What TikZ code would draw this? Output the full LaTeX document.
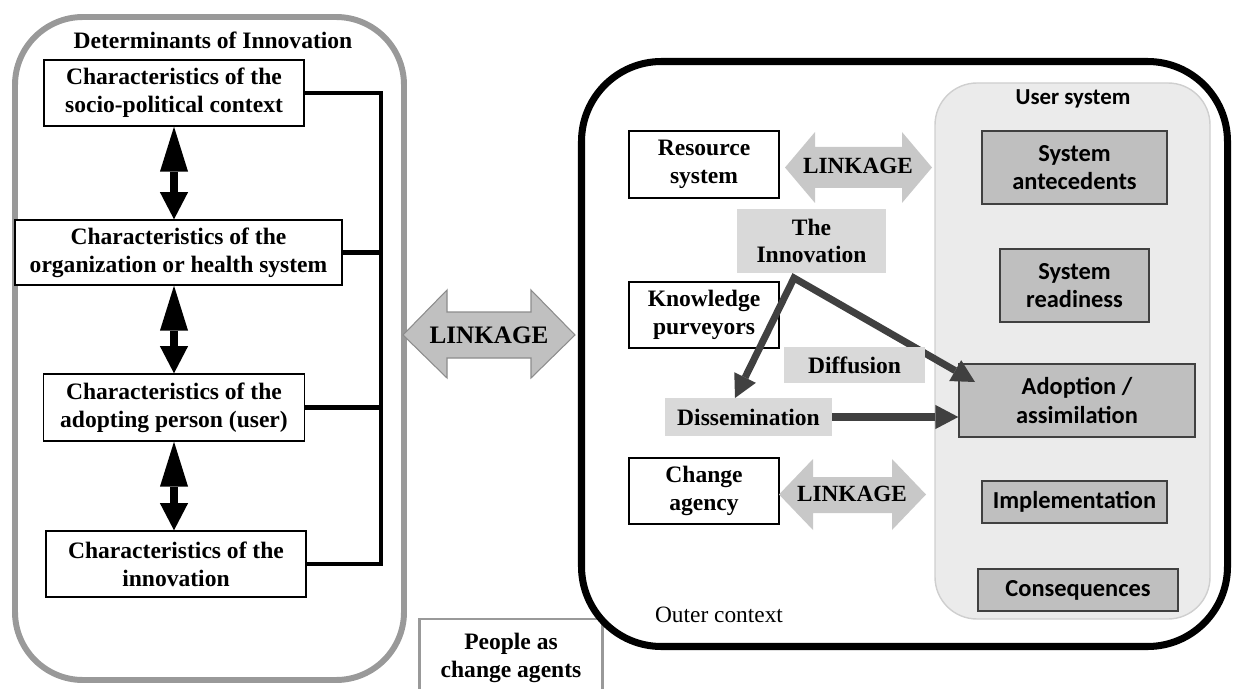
\documentclass[tikz,border=0pt]{standalone}
\usepackage{fontspec}
\setmainfont{Liberation Serif}
\newfontfamily\carlito{Carlito}
\usetikzlibrary{arrows.meta,calc}
\definecolor{darkg}{HTML}{404040}
\definecolor{lightbox}{HTML}{D9D9D9}
\definecolor{userbg}{HTML}{EBEBEB}
\definecolor{userln}{HTML}{CFCFCF}
\definecolor{ufill}{HTML}{BFBFBF}
\definecolor{lkfill}{HTML}{C8C8C8}
\definecolor{lkbig}{HTML}{C0C0C0}
\begin{document}
\begin{tikzpicture}[x=0.02cm, y=-0.02cm,
  sz/.style 2 args={minimum width=#1*0.02cm, minimum height=#2*0.02cm},
  serifb/.style={font=\bfseries\fontsize{13.4}{15.8}\selectfont},
  wbox/.style={draw, line width=0.8pt, fill=white, align=center, inner sep=0pt, serifb},
  gbox/.style={fill=lightbox, align=center, inner sep=0pt, serifb},
  ubox/.style={draw=darkg, line width=0.8pt, fill=ufill, align=center, inner sep=0pt,
    font=\carlito\bfseries\fontsize{13.9}{16}\selectfont},
  dbl/.style={line width=4.5pt,
    {Triangle[length=25.6pt,width=16pt,line width=0pt]}-{Triangle[length=15.4pt,width=16pt,line width=0pt]}},
  bus/.style={line width=2.3pt, line join=miter},
  darr/.style={line width=4pt, draw=darkg, line join=miter},
  dtip/.style={Triangle[length=13pt,width=13.7pt,line width=0pt]},
  lktext/.style={font=\bfseries\fontsize{13.2}{15}\selectfont, inner sep=0pt}
]
\useasboundingbox (0,0) rectangle (1234,689);

% ---------- left panel ----------
\draw[line width=3.4pt, draw=black!40, rounded corners=1.36cm] (15,17) rectangle (404,680);
\node[serifb, inner sep=0pt] (dettitle) at (213,40) {Determinants of Innovation};

\node[wbox, sz={260}{66}] (b1) at (174,93) {Characteristics of the\\socio-political context};
\node[wbox, sz={327}{65}] (b2) at (178.5,252.5) {Characteristics of the\\organization or health system};
\node[wbox, sz={261}{67}] (b3) at (174,407.5) {Characteristics of the\\adopting person (user)};
\node[wbox, sz={260}{66}] (b4) at (176,564) {Characteristics of the\\innovation};

\draw[dbl] (b1.south) -- (b1.south |- b2.north);
\draw[dbl] (b1.south |- b2.south) -- (b1.south |- b3.north);
\draw[dbl] (b3.south) -- (b3.south |- b4.north);

\coordinate (bt) at (381,97);
\draw[bus] (b1.east) -| (bt |- b4.east) -- (b4.east);
\draw[bus] (b2.east) -- (b2.east -| bt);
\draw[bus] (b3.east) -- (b3.east -| bt);

% ---------- big linkage ----------
\draw[fill=lkbig, draw=black!45, line width=0.6pt]
  (403,335) -- (447,290) -- (447,312) -- (531,312) -- (531,290) -- (575,335)
  -- (531,378) -- (531,358) -- (447,358) -- (447,378) -- cycle;
\node[lktext, font=\bfseries\fontsize{14.3}{16}\selectfont] (lk0) at (489,335) {LINKAGE};

% ---------- people box ----------
\node[draw=black!40, line width=1.7pt, fill=white, sz={183}{78}, align=center, inner sep=0pt,
  serifb] (people) at (511,658) {People as\\change agents};

% ---------- right panel ----------
\draw[line width=4pt, rounded corners=1.6cm] (581.5,61.5) rectangle (1227.5,646.5);
\draw[fill=userbg, draw=userln, line width=0.8pt, rounded corners=0.84cm] (935,83) rectangle (1210,619);
\node[font=\carlito\bfseries\fontsize{13}{15}\selectfont, inner sep=0pt] (us) at (1073,99) {User system};

\node[ubox, sz={185}{73}] (ant) at (1074.5,167.5) {System\\antecedents};
\node[ubox, sz={149}{73}] (ready) at (1074.5,285.5) {System\\readiness};
\node[ubox, sz={236}{73}] (adopt) at (1077,400.5) {Adoption /\\assimilation};
\node[ubox, sz={185}{42}] (impl) at (1074.5,502) {Implementation};
\node[ubox, sz={200}{42}] (cons) at (1078,590) {Consequences};

\node[wbox, sz={150}{67}] (res) at (704,164.5) {Resource\\system};
\node[wbox, sz={150}{66}] (know) at (704,315) {Knowledge\\purveyors};
\node[wbox, sz={150}{66}] (chg) at (704,491) {Change\\agency};

% linkage arrows
\fill[lkfill] (785,167.5) -- (815,132) -- (815,147) -- (902,147) -- (902,132) -- (932,167.5)
  -- (902,203) -- (902,188) -- (815,188) -- (815,203) -- cycle;
\node[lktext] (lk1) at (858,166) {LINKAGE};
\fill[lkfill] (779,494.5) -- (813,459) -- (813,477) -- (892,477) -- (892,459) -- (926,494.5)
  -- (892,530) -- (892,513) -- (813,513) -- (813,530) -- cycle;
\node[lktext] (lk2) at (852,494) {LINKAGE};

\node[gbox, sz={149}{64}] (inno) at (811.5,241) {The\\Innovation};
\node[gbox, sz={167}{38}] (diss) at (748.5,417) {Dissemination};

% dark arrows
\coordinate (apex) at (794,278);
\coordinate (dissTip) at (735,398);
\coordinate (adoptTip) at (975,382);
\draw[darr, {Triangle[length=13pt,width=13.7pt,line width=0pt]}-{Triangle[length=13pt,width=13.7pt,line width=0pt]}]
  (dissTip) -- (apex) -- (adoptTip);
\draw[darr, -{Triangle[length=13pt,width=13.7pt,line width=0pt]}] (diss.east) -- (diss.east -| adopt.west);

\node[gbox, sz={141}{36}] (diff) at (854.5,365) {Diffusion};

\node[font=\fontsize{13.3}{16}\selectfont, inner sep=0pt] (oc) at (719,615) {Outer context};
\end{tikzpicture}
\end{document}
